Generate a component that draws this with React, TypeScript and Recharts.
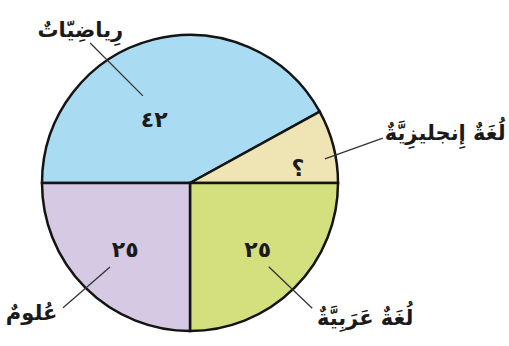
import { PieChart, Pie, Cell } from "recharts";

// subjects, clockwise from the left edge
const SUBJECTS = ["رِياضِيّاتٌ", "لُغَةٌ إِنجليزِيَّةٌ", "لُغَةٌ عَرَبِيَّةٌ", "عُلومٌ"];
const VALUES = [42, 8, 25, 25];
const VALUE_LABELS = ["٤٢", "؟", "٢٥", "٢٥"];

const COLORS = ["#a9dcf3", "#efe4b3", "#d4e07d", "#d5c9e3"];

// label placement (polar: angle in degrees, radius in px)
const LABEL_GEOM = [
  { value: [119.4, 73], line: [[118.4, 99], [125.5, 172]], text: [125.7, 188] },
  { value: [7.9, 109], line: [[10.1, 137], [13.1, 198]], text: [11.05, 260] },
  { value: [-44.6, 95], line: [[-46.8, 115], [-45.7, 175]], text: [-37.6, 221] },
  { value: [-134.1, 93], line: [[-133.6, 116], [-135.5, 178]], text: [-140.6, 205] },
];

const data = SUBJECTS.map((name, i) => ({ name, value: VALUES[i] }));

const FONT = "'DejaVu Sans', sans-serif";

function polar(cx: number, cy: number, deg: number, r: number) {
  const a = (deg * Math.PI) / 180;
  return { x: cx + r * Math.cos(a), y: cy - r * Math.sin(a) };
}

// eslint-disable-next-line @typescript-eslint/no-explicit-any
function renderLabel(props: any) {
  const { cx, cy, index } = props;
  const g = LABEL_GEOM[index];
  const v = polar(cx, cy, g.value[0], g.value[1]);
  const p1 = polar(cx, cy, g.line[0][0], g.line[0][1]);
  const p2 = polar(cx, cy, g.line[1][0], g.line[1][1]);
  const t = polar(cx, cy, g.text[0], g.text[1]);
  return (
    <g key={`lbl-${index}`}>
      <line x1={p1.x} y1={p1.y} x2={p2.x} y2={p2.y} stroke="#333" strokeWidth={1.3} />
      <text
        x={v.x}
        y={v.y}
        textAnchor="middle"
        dominantBaseline="central"
        fontFamily={FONT}
        fontSize={22}
        fontWeight="bold"
        fill="#1a1a1a"
      >
        {VALUE_LABELS[index]}
      </text>
      <text
        x={t.x}
        y={t.y}
        textAnchor="middle"
        dominantBaseline="central"
        fontFamily={FONT}
        fontSize={21}
        fontWeight="bold"
        fill="#1a1a1a"
      >
        {SUBJECTS[index]}
      </text>
    </g>
  );
}

export default function App() {
  return (
    <div style={{ position: "absolute", left: 0, top: 0, background: "#fff" }}>
      <PieChart width={509} height={346} margin={{ top: 0, right: 0, bottom: 0, left: 0 }}>
        <Pie
          data={data}
          dataKey="value"
          nameKey="name"
          cx={190}
          cy={183}
          outerRadius={148}
          startAngle={180}
          endAngle={-180}
          stroke="#141414"
          strokeWidth={2.5}
          label={renderLabel}
          labelLine={false}
          isAnimationActive={false}
        >
          {data.map((d, i) => (
            <Cell key={d.name} fill={COLORS[i]} />
          ))}
        </Pie>
      </PieChart>
    </div>
  );
}
